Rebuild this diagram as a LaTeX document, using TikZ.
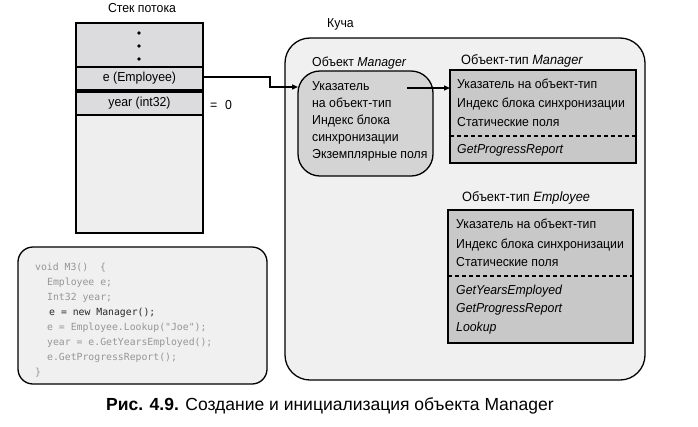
\documentclass[tikz,border=0pt]{standalone}
\usepackage{fontspec}
\setmainfont{Liberation Sans}
\newfontfamily\cond[FakeStretch=0.945]{Liberation Sans}
\newfontfamily\codefont{DejaVu Sans Mono}
\usetikzlibrary{arrows.meta}
\definecolor{stackgrey}{RGB}{220,220,222}
\definecolor{stacklight}{RGB}{238,238,238}
\definecolor{heapfill}{RGB}{240,240,240}
\definecolor{objfill}{RGB}{212,212,212}
\definecolor{typefill}{RGB}{200,200,200}
\definecolor{codegrey}{RGB}{150,150,150}
\definecolor{codedark}{RGB}{40,40,40}
\tikzset{
  x=1pt, y=-1pt,
  frame/.style={draw=black, line width=1.3pt},
  lbl/.style={inner sep=0pt, anchor=base west, font=\cond\fontsize{13}{15}\selectfont},
  ctr/.style={inner sep=0pt, font=\cond\fontsize{13}{15}\selectfont},
  codeline/.style={inner sep=0pt, anchor=base west, font=\codefont\fontsize{9.8}{12}\selectfont, text=codegrey},
  conn/.style={line width=1.3pt, -{Triangle[length=6pt,width=5pt]}},
}
\begin{document}
\begin{tikzpicture}
\useasboundingbox (0,0) rectangle (698,426);
% ---------- stack ----------
\node[ctr] (stacktitle) at (142,8) {Стек потока};
\draw[frame, fill=stacklight] (76,23) rectangle (203,233);
\draw[frame, fill=stackgrey] (76,23) rectangle (203,67);
\draw[frame, fill=stackgrey] (76,67) rectangle (203,90);
\draw[frame, fill=stackgrey] (76,92) rectangle (203,115);
\fill (139,33) circle (1.8pt) (139,46) circle (1.8pt) (139,59) circle (1.8pt);
\node[ctr] (erow) at (139.5,78.5) {e (Employee)};
\node[ctr] (yrow) at (139.5,103) {year (int32)};
\node[ctr] (eq) at (221,105) {=\hspace{8pt}0};
\coordinate (eout) at (203,77);
% ---------- heap ----------
\draw[frame, fill=heapfill, rounded corners=25pt] (285,38) rectangle (645,380);
\node[lbl] (heaptitle) at (327,27) {Куча};
% Manager object
\node[lbl] (mobjtitle) at (312,66) {Объект \textit{Manager}};
\draw[frame, fill=objfill, rounded corners=22pt] (298,71) rectangle (433,176);
\coordinate (mobjin) at (298,87);
\node[lbl] (mo1) at (312,90) {Указатель};
\node[lbl] (mo2) at (312,107) {на объект-тип};
\node[lbl] (mo3) at (312,124) {Индекс блока};
\node[lbl] (mo4) at (312,141) {синхронизации};
\node[lbl] (mo5) at (312,158) {Экземплярные поля};
% Manager type object
\node[lbl] (mttitle) at (461,64) {\fontsize{13.5}{15}\selectfont Объект-тип \textit{Manager}};
\draw[frame, fill=typefill] (450,70) rectangle (636,163);
\draw[line width=1.1pt, dash pattern=on 4pt off 3pt] (450,136) -- (636,136);
\node[lbl] (mt1) at (457,88) {Указатель на объект-тип};
\node[lbl] (mt2) at (457,107) {Индекс блока синхронизации};
\node[lbl] (mt3) at (457,126) {Статические поля};
\node[lbl] (mt4) at (457,153) {\itshape GetProgressReport};
\coordinate (mtin) at (450,88);
\coordinate (moptr) at (407,88);
% Employee type object
\node[lbl] (ettitle) at (462,201) {\fontsize{13.5}{15}\selectfont Объект-тип \textit{Employee}};
\draw[frame, fill=typefill] (448,210) rectangle (633,343);
\draw[line width=1.1pt, dash pattern=on 4pt off 3pt] (448,276) -- (633,276);
\node[lbl] (et1) at (456,228) {Указатель на объект-тип};
\node[lbl] (et2) at (456,248) {Индекс блока синхронизации};
\node[lbl] (et3) at (456,266) {Статические поля};
\node[lbl] (et4) at (456,294) {\itshape GetYearsEmployed};
\node[lbl] (et5) at (456,312) {\itshape GetProgressReport};
\node[lbl] (et6) at (456,331) {\itshape Lookup};
% connectors
\draw[conn] (eout) -- (270,77) -- (270,87) -- (mobjin);
\draw[conn] (moptr) -- (mtin);
% ---------- code ----------
\draw[frame, fill=heapfill, rounded corners=15pt] (18,247) rectangle (267,384);
\node[codeline] (c1) at (35,270) {void M3()\ \ \{};
\node[codeline] (c2) at (47,285) {Employee e;};
\node[codeline] (c3) at (47,300) {Int32 year;};
\node[codeline, text=codedark] (c4) at (49,315) {e = new Manager();};
\node[codeline] (c5) at (47,330) {e = Employee.Lookup("Joe");};
\node[codeline] (c6) at (47,345) {year = e.GetYearsEmployed();};
\node[codeline] (c7) at (47,360) {e.GetProgressReport();};
\node[codeline] (c8) at (35,375) {\}};
% ---------- caption ----------
\node[inner sep=0pt, anchor=base west, font=\fontsize{17.5}{20}\selectfont] (cap) at (106,410) {\textbf{Рис. 4.9.} Создание и инициализация объекта Manager};
\end{tikzpicture}
\end{document}
